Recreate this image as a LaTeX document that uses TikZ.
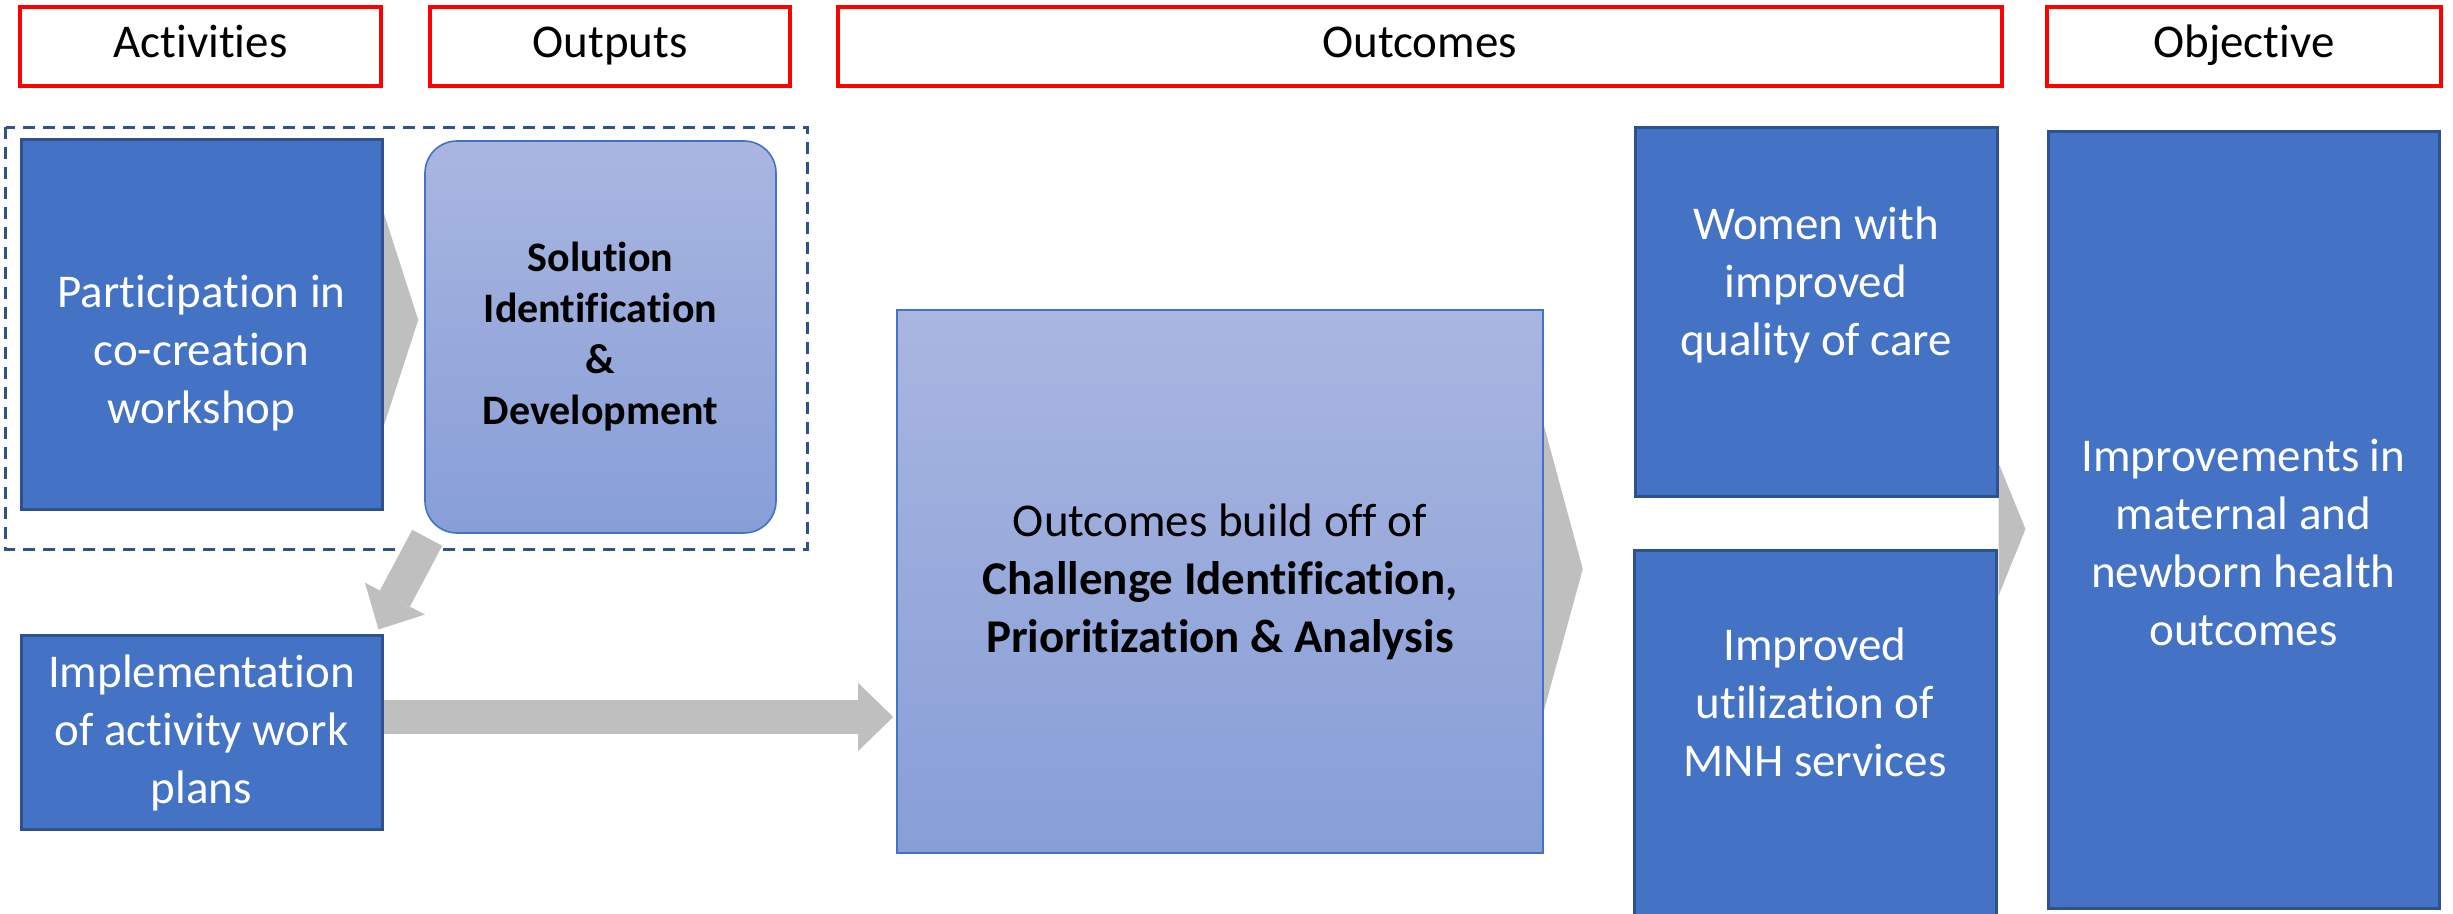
\documentclass[tikz,border=0pt]{standalone}
\usepackage{fontspec}
\setmainfont{Carlito}[Ligatures=NoCommon]
\usetikzlibrary{arrows.meta,calc,backgrounds}

\definecolor{hdrred}{RGB}{255,0,0}
\definecolor{boxblue}{RGB}{68,114,196}
\definecolor{boxedge}{RGB}{47,82,143}
\definecolor{lighttop}{RGB}{169,182,224}
\definecolor{lightbot}{RGB}{135,158,215}
\definecolor{arrowgray}{RGB}{191,191,191}

\tikzset{
  header/.style={draw=hdrred, line width=2pt, fill=white, minimum height=39.5pt,
    inner sep=0pt, text height=16pt, text depth=4.5pt,
    font=\fontsize{23.5}{29}\selectfont},
  bluebox/.style={draw=boxedge, line width=1.5pt, fill=boxblue, inner sep=0pt},
  lightbox/.style={draw=boxblue, line width=0.8pt, top color=lighttop,
    bottom color=lightbot, inner sep=0pt, align=center, text=black},
  whitetext/.style={text=white, align=center, inner sep=0pt,
    font=\fontsize{23.5}{29}\selectfont},
  dashframe/.style={draw=boxedge, line width=1.5pt, dash pattern=on 6pt off 4pt},
  blockarrow/.style={draw=arrowgray, line width=17pt,
    -{Triangle[length=17.5pt, width=34pt, line width=0pt]}},
  chevron/.style={fill=arrowgray},
}

\begin{document}
\begin{tikzpicture}[x=0.5pt, y=-0.5pt]
  \useasboundingbox (0,0) rectangle (2453,914);

  % column headers
  \node[header, minimum width=180.5pt] (hact) at (200.5,46.5) {Activities};
  \node[header, minimum width=180pt]   (hout) at (610,46.5)   {Outputs};
  \node[header, minimum width=582pt]   (hoc)  at (1419.5,46.5) {Outcomes};
  \node[header, minimum width=197pt]   (hobj) at (2244,46.5)  {Objective};

  % activities
  \node[bluebox, minimum width=180.5pt, minimum height=185pt] (part) at (201.5,325) {};
  \node[whitetext] (parttxt) at (201.5,353) {Participation in\\co-creation\\workshop};
  \node[bluebox, minimum width=180.5pt, minimum height=97pt] (impl) at (201.5,732) {};
  \node[whitetext] (impltxt) at (201.5,733) {Implementation\\of activity work\\plans};

  % outputs
  \node[lightbox, rounded corners=16pt, minimum width=175.5pt, minimum height=196pt,
        font=\fontsize{21}{25.5}\selectfont\bfseries] (sol) at (600.5,337)
        {Solution\\Identification\\\&\\Development};

  % outcomes
  \node[lightbox, minimum width=323pt, minimum height=271.5pt,
        font=\fontsize{23.5}{29}\selectfont] (central) at (1220,581.5)
        {Outcomes build off of\\\textbf{Challenge Identification,}\\\textbf{Prioritization \& Analysis}};
  \node[bluebox, minimum width=181pt, minimum height=184.5pt] (women) at (1816,312.5) {};
  \node[whitetext] (womentxt) at (1816,285) {Women with\\improved\\quality of care};
  \node[bluebox, minimum width=181pt, minimum height=200pt, anchor=north] (util) at (1815,549) {};
  \node[whitetext] (utiltxt) at (1815,702) {Improved\\utilization of\\MNH services};

  % objective
  \node[bluebox, minimum width=195.5pt, minimum height=388pt] (obj) at (2243.5,520) {};
  \node[whitetext] (objtxt) at (2243.5,543) {Improvements in\\maternal and\\newborn health\\outcomes};

  \begin{pgfonlayer}{background}
    % frame round the co-creation step
    \draw[dashframe] ($(part.north west)+(-14,-11)$) rectangle ($(sol.south east)+(31,16)$);
    % chevrons between stages
    \fill[chevron] ($(part.east)+(0,-113)$) -- ($(sol.west)+(-6,-17)$) -- ($(part.east)+(0,102)$) -- cycle;
    \fill[chevron] ($(central.east)+(0,-156.5)$) -- ($(central.east)+(39,-12.5)$) -- ($(central.east)+(0,129.5)$) -- cycle;
    \fill[chevron] ($(obj.west)+(-48,-57)$) -- ($(obj.west)+(-21,9)$) -- ($(obj.west)+(-48,76)$) -- cycle;
    % block arrows
    \draw[blockarrow] ($(sol.south west)+(3,4)$) -- ($(impl.north east)+(-5,-4)$);
    \draw[blockarrow] ($(impl.east)+(0,-15)$) -- ($(central.west|-impl.east)+(-3,-15)$);
  \end{pgfonlayer}
\end{tikzpicture}
\end{document}
